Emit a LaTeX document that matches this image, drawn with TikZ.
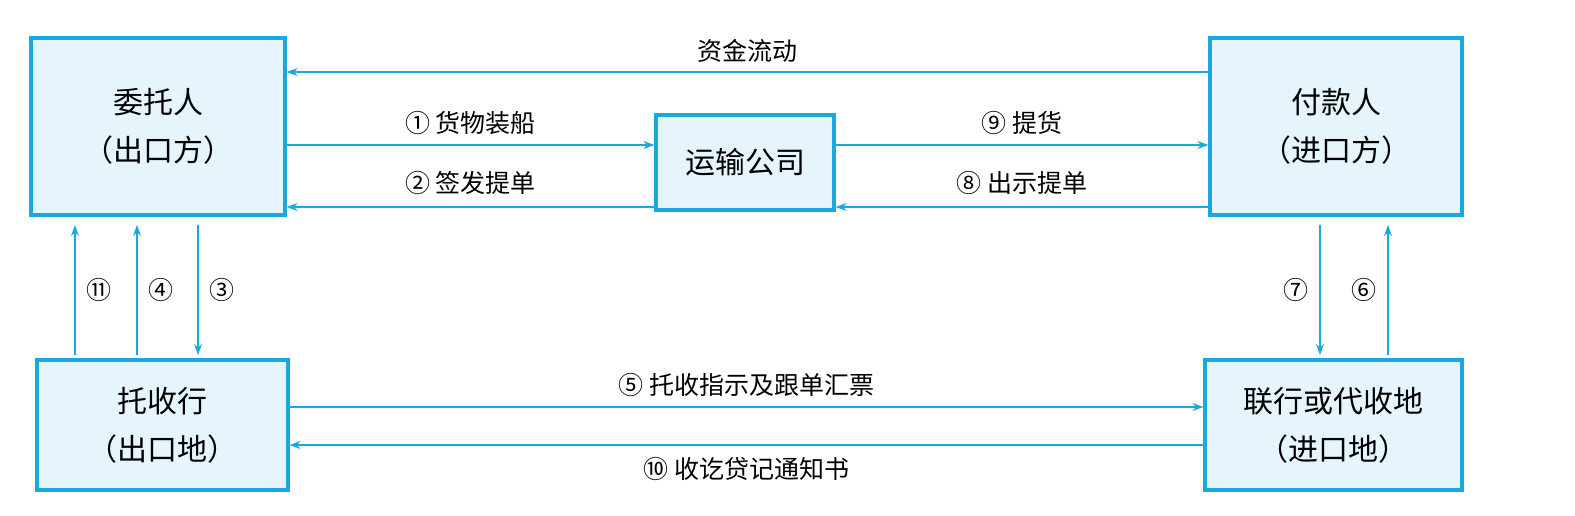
\documentclass[tikz,border=0pt]{standalone}
\usepackage{fontspec}
\setmainfont{Noto Sans CJK SC}
\usetikzlibrary{arrows.meta}
\definecolor{lineblue}{HTML}{1AA9DE}
\definecolor{fillblue}{HTML}{E6F5FC}
\tikzset{
  box/.style={draw=lineblue, fill=fillblue, line width=3.2pt, align=center, inner sep=0pt, font=\fontsize{30}{48}\selectfont},
  flow/.style={draw=lineblue, line width=1.1pt, -{Stealth[length=11pt,width=8pt]}},
  lab/.style={font=\fontsize{25}{28}\selectfont}
}
\begin{document}
\begin{tikzpicture}[x=1pt,y=-1pt]
\useasboundingbox (0,0) rectangle (1575,515);

\node[box, minimum width=254pt, minimum height=177pt] (wtr) at (158,126.5) {委托人\\（出口方）};
\node[box, minimum width=178pt, minimum height=95pt] (ys) at (745,162.5) {运输公司};
\node[box, minimum width=252pt, minimum height=177pt] (fkr) at (1336,126.5) {付款人\\（进口方）};
\node[box, minimum width=251pt, minimum height=130pt] (tsh) at (162.5,425) {托收行\\（出口地）};
\node[box, minimum width=257pt, minimum height=130pt] (lh) at (1333.5,425) {联行或代收地\\（进口地）};

% top row
\draw[flow] (fkr.west |- 0,72) -- (wtr.east |- 0,72) node[midway, above=6pt, lab] {资金流动};
\draw[flow] (wtr.east |- 0,145) -- (ys.west |- 0,145) node[midway, above=6pt, lab] {① 货物装船};
\draw[flow] (ys.west |- 0,207) -- (wtr.east |- 0,207) node[midway, above=8pt, lab] {② 签发提单};
\draw[flow] (ys.east |- 0,145) -- (fkr.west |- 0,145) node[midway, above=6pt, lab] {⑨ 提货};
\draw[flow] (fkr.west |- 0,207) -- (ys.east |- 0,207) node[midway, above=8pt, lab] {⑧ 出示提单};

% left column
\draw[flow] (75,355) -- (75,225) node[midway, right=8pt, lab] {⑪};
\draw[flow] (137,355) -- (137,225) node[midway, right=8pt, lab] {④};
\draw[flow] (198,225) -- (198,355) node[midway, right=8pt, lab] {③};

% right column
\draw[flow] (1320,225) -- (1320,355) node[midway, left=8pt, lab] {⑦};
\draw[flow] (1388,355) -- (1388,225) node[midway, left=8pt, lab] {⑥};

% bottom row
\draw[flow] (tsh.east |- 0,407) -- (lh.west |- 0,407) node[midway, above=6pt, lab] {⑤ 托收指示及跟单汇票};
\draw[flow] (lh.west |- 0,445) -- (tsh.east |- 0,445) node[midway, below=8pt, lab] {⑩ 收讫贷记通知书};

\end{tikzpicture}
\end{document}
